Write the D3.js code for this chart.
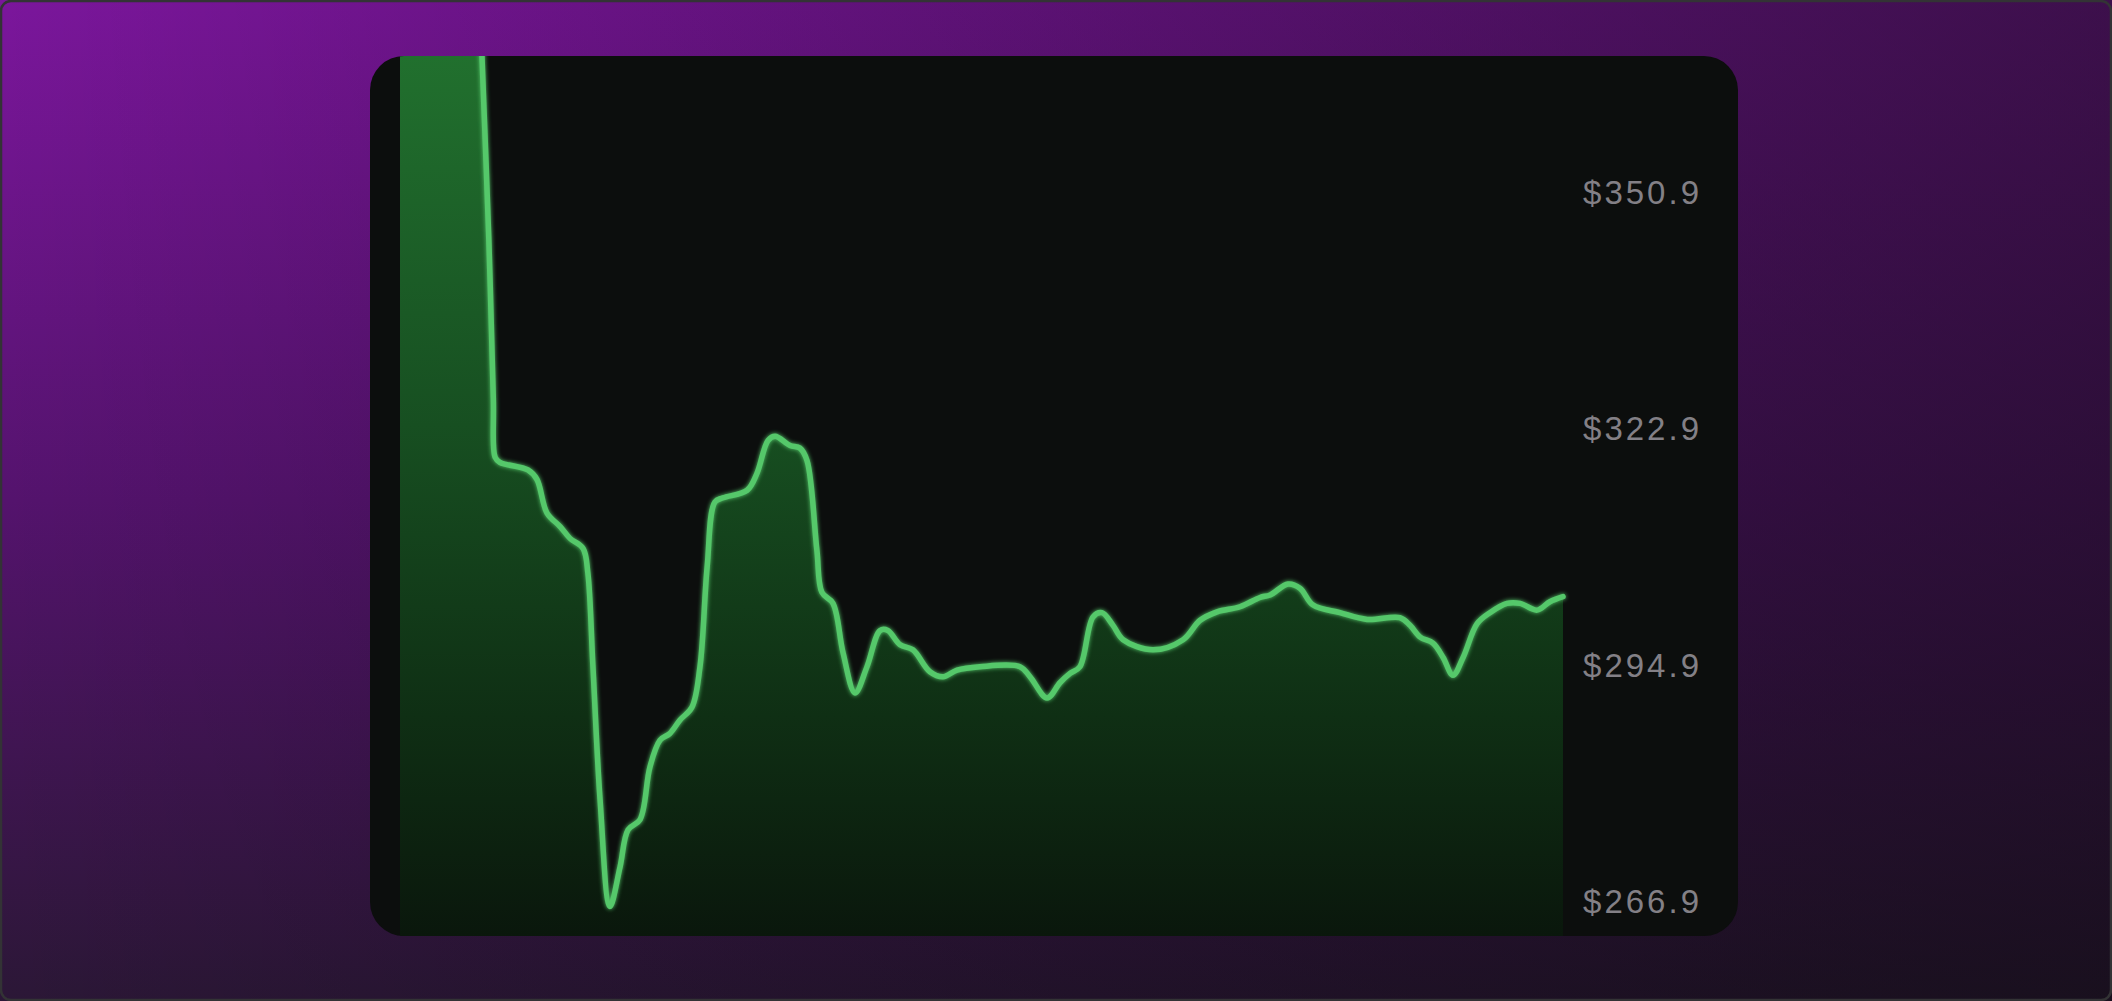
<!DOCTYPE html>
<html>
<head>
<meta charset="utf-8">
<script src="https://cdn.jsdelivr.net/npm/d3@7"></script>
<style>
	html, body { margin: 0; padding: 0; background: #111; overflow: hidden; }
	svg { display: block; }
</style>
</head>
<body>
<svg id="svgPrice" width="2112" height="1001"></svg>
<script>
// minutes since the open and the traded price
const times = [0, 13.4, 26.2, 27.5, 29.8, 31.3, 31.9, 33.5, 42.9, 45.9, 49.3, 53.7, 57.0, 61.4, 63.0, 64.7, 67.1, 70.4,
	73.8, 76.5, 80.5, 83.8, 87.2, 90.5, 93.9, 97.9, 100.6, 103.0, 105.6, 108.3, 116.4, 119.7, 123.4,
	125.8, 130.8, 134.1, 136.5, 139.8, 141.5, 145.2, 148.6, 152.6, 156.6, 161.0, 163.6, 167.7, 172.0,
	177.7, 182.1, 186.8, 194.5, 207.9, 211.3, 217.0, 221.3, 224.7, 228.0, 232.4, 235.4, 239.1, 242.5,
	252.5, 262.6, 268.3, 274.0, 281.7, 288.4, 291.8, 297.8, 301.8, 306.2, 315.2, 324.3, 335.3, 338.7,
	342.1, 346.4, 349.8, 353.1, 356.5, 361.2, 365.5, 371.2, 375.6, 381.3, 385.6, 390];
const prices = [380.0, 380.0, 380.0, 367.0, 345.3, 326.4, 319.6, 319.0, 318.1, 317.0, 313.0, 311.4, 310.0, 308.8, 305.9, 294.8, 279.0, 266.4,
	271.1, 275.5, 276.7, 282.9, 286.1, 286.9, 288.5, 290.0, 294.8, 306.6, 314.3, 314.8, 315.7, 317.7, 321.6,
	322.1, 321.0, 320.7, 319.2, 308.6, 303.6, 302.3, 296.4, 291.7, 294.8, 299.1, 299.1, 297.4, 296.8,
	294.2, 293.6, 294.4, 294.8, 294.8, 293.6, 291.1, 292.9, 294.0, 294.8, 300.7, 301.2, 299.7, 298.0,
	296.8, 298.0, 300.3, 301.3, 301.9, 303.0, 303.3, 304.6, 304.1, 302.1, 301.2, 300.4, 300.6, 299.7,
	298.3, 297.6, 295.9, 293.8, 295.9, 299.9, 301.2, 302.3, 302.3, 301.5, 302.5, 303.1];
const tickPrices = [266.9, 294.9, 322.9, 350.9];
const sessionMinutes = [0, 390];

const svg = d3.select('#svgPrice');
const width = +svg.attr('width');
const height = +svg.attr('height');

const card = { x: 370, y: 56, w: 1368, h: 880, r: 34 };
const plot = { left: 400, right: 1563, labelX: 1702 };

const data = times.map((t, i) => ({ t: t, price: prices[i] }));

const defs = svg.append('defs');

//Background: purple fading to near black
const bgV = defs.append('linearGradient')
	.attr('id', 'bgV')
	.attr('x1', 0).attr('y1', 0).attr('x2', 0).attr('y2', 1);
bgV.append('stop').attr('offset', 0).attr('stop-color', '#7b169c');
bgV.append('stop').attr('offset', 0.5).attr('stop-color', '#54136d');
bgV.append('stop').attr('offset', 1).attr('stop-color', '#2b1736');

const bgH = defs.append('linearGradient')
	.attr('id', 'bgH')
	.attr('x1', 0).attr('y1', 0).attr('x2', 1).attr('y2', 0);
bgH.append('stop').attr('offset', 0).attr('stop-color', '#000').attr('stop-opacity', 0);
bgH.append('stop').attr('offset', 1).attr('stop-color', '#0a0a0a').attr('stop-opacity', 0.55);

//Green fill under the price line
const fillGrad = defs.append('linearGradient')
	.attr('id', 'fillGrad')
	.attr('gradientUnits', 'userSpaceOnUse')
	.attr('x1', 0).attr('y1', card.y).attr('x2', 0).attr('y2', card.y + card.h);
fillGrad.append('stop').attr('offset', 0).attr('stop-color', '#21702e');
fillGrad.append('stop').attr('offset', 0.42).attr('stop-color', '#174f21');
fillGrad.append('stop').attr('offset', 0.75).attr('stop-color', '#0f2f14');
fillGrad.append('stop').attr('offset', 1).attr('stop-color', '#0a170c');

//Soft glow for the line
const glow = defs.append('filter')
	.attr('id', 'glow')
	.attr('x', '-10%').attr('y', '-10%').attr('width', '120%').attr('height', '120%');
glow.append('feGaussianBlur').attr('stdDeviation', 2).attr('result', 'blur');
const merge = glow.append('feMerge');
merge.append('feMergeNode').attr('in', 'blur');
merge.append('feMergeNode').attr('in', 'SourceGraphic');

defs.append('clipPath')
	.attr('id', 'cardClip')
	.append('rect')
		.attr('x', card.x).attr('y', card.y)
		.attr('width', card.w).attr('height', card.h)
		.attr('rx', card.r);

svg.append('rect')
	.attr('width', width).attr('height', height)
	.attr('fill', 'url(#bgV)');
svg.append('rect')
	.attr('width', width).attr('height', height)
	.attr('fill', 'url(#bgH)');
svg.append('rect')
	.attr('x', 1).attr('y', 1)
	.attr('width', width - 2).attr('height', height - 2)
	.attr('rx', 10)
	.attr('fill', 'none')
	.attr('stroke', '#333335')
	.attr('stroke-width', 2.5);

//Card
svg.append('rect')
	.attr('x', card.x).attr('y', card.y)
	.attr('width', card.w).attr('height', card.h)
	.attr('rx', card.r)
	.attr('fill', '#0c0e0d');

//Scales
const xScale = d3.scaleLinear()
	.domain(sessionMinutes)
	.range([plot.left, plot.right]);

const yScale = d3.scaleLinear()
	.domain([266.9, 350.9])
	.range([902.3, 193]);

const g = svg.append('g')
	.attr('clip-path', 'url(#cardClip)');

const curve = d3.curveCatmullRom.alpha(0.5);

const area = d3.area()
	.x(d => xScale(d.t))
	.y0(card.y + card.h)
	.y1(d => yScale(d.price))
	.curve(curve);

const line = d3.line()
	.x(d => xScale(d.t))
	.y(d => yScale(d.price))
	.curve(curve);

g.append('path')
	.datum(data)
	.attr('d', area)
	.attr('fill', 'url(#fillGrad)');

g.append('path')
	.datum(data)
	.attr('d', line)
	.attr('fill', 'none')
	.attr('stroke', '#55c86b')
	.attr('stroke-width', 5.5)
	.attr('stroke-linejoin', 'round')
	.attr('stroke-linecap', 'round')
	.attr('filter', 'url(#glow)');

//Price labels on the right
const yAxis = d3.axisLeft(yScale)
	.tickValues(tickPrices)
	.tickSize(0)
	.tickPadding(0)
	.tickFormat(d => '$' + d.toFixed(1));

const yAxisG = svg.append('g')
	.attr('transform', `translate(${plot.labelX},0)`)
	.call(yAxis);
yAxisG.select('.domain').remove();
yAxisG.selectAll('text')
	.attr('fill', '#838086')
	.attr('font-family', 'Liberation Sans, Arial, sans-serif')
	.attr('font-size', 33)
	.attr('letter-spacing', 3);
</script>
</body>
</html>
